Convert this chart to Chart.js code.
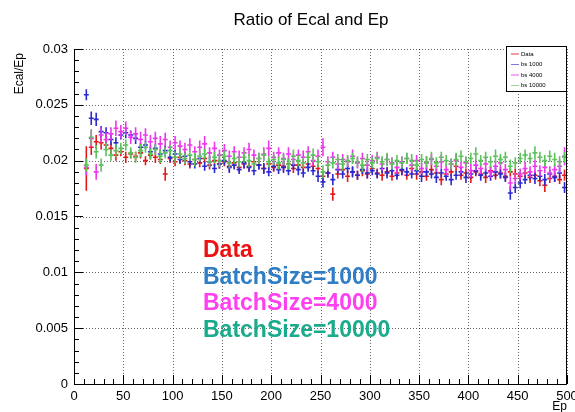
<!DOCTYPE html>
<html lang="en">
<head>
<meta charset="UTF-8">
<title>Ratio of Ecal and Ep</title>
<script src="https://cdn.jsdelivr.net/npm/chart.js"></script>
<style>
  body { margin: 0; padding: 0; background: #fff; }
  #wrap { width: 575px; height: 412px; }
</style>
</head>
<body>
<div id="wrap"><canvas id="ratioChart" width="575" height="412"></canvas></div>
<script>
  // bin centres (bin width 5)
  var binCenters = [
    12.5, 17.5, 22.5, 27.5, 32.5, 37.5, 42.5, 47.5, 52.5, 57.5,
    62.5, 67.5, 72.5, 77.5, 82.5, 87.5, 92.5, 97.5, 102.5, 107.5,
    112.5, 117.5, 122.5, 127.5, 132.5, 137.5, 142.5, 147.5, 152.5, 157.5,
    162.5, 167.5, 172.5, 177.5, 182.5, 187.5, 192.5, 197.5, 202.5, 207.5,
    212.5, 217.5, 222.5, 227.5, 232.5, 237.5, 242.5, 247.5, 252.5, 257.5,
    262.5, 267.5, 272.5, 277.5, 282.5, 287.5, 292.5, 297.5, 302.5, 307.5,
    312.5, 317.5, 322.5, 327.5, 332.5, 337.5, 342.5, 347.5, 352.5, 357.5,
    362.5, 367.5, 372.5, 377.5, 382.5, 387.5, 392.5, 397.5, 402.5, 407.5,
    412.5, 417.5, 422.5, 427.5, 432.5, 437.5, 442.5, 447.5, 452.5, 457.5,
    462.5, 467.5, 472.5, 477.5, 482.5, 487.5, 492.5, 497.5
  ];
  var halfBin = 2.5;

  var seriesNames = ['Data', 'bs 1000', 'bs 4000', 'bs 10000'];

  var ratioData = [
    0.0193, 0.0212, 0.0217, 0.0216, 0.0214, 0.0211, 0.0205, 0.0208, 0.0203, 0.0206,
    0.0204, 0.0207, 0.0200, 0.0205, 0.0203, 0.0201, 0.0188, 0.0202, 0.0199, 0.0203,
    0.0200, 0.0197, 0.0201, 0.0198, 0.0202, 0.0196, 0.0200, 0.0197, 0.0199, 0.0195,
    0.0198, 0.0194, 0.0197, 0.0195, 0.0199, 0.0196, 0.0193, 0.0197, 0.0194, 0.0196,
    0.0195, 0.0197, 0.0193, 0.0196, 0.0194, 0.0197, 0.0195, 0.0193, 0.0186, 0.0189,
    0.0170, 0.0188, 0.0192, 0.0186, 0.0190, 0.0187, 0.0191, 0.0188, 0.0193, 0.0189,
    0.0187, 0.0190, 0.0186, 0.0189, 0.0191, 0.0187, 0.0193, 0.0188, 0.0190, 0.0186,
    0.0192, 0.0189, 0.0183, 0.0188, 0.0190, 0.0195, 0.0187, 0.0189, 0.0185, 0.0190,
    0.0188, 0.0185, 0.0191, 0.0187, 0.0189, 0.0186, 0.0190, 0.0188, 0.0186, 0.0189,
    0.0185, 0.0187, 0.0182, 0.0178, 0.0184, 0.0186, 0.0183, 0.0187
  ];
  var errData = [
    0.0020, 0.0007, 0.0006, 0.0006, 0.0005, 0.0005, 0.0005, 0.0004, 0.0005, 0.0004,
    0.0004, 0.0005, 0.0004, 0.0004, 0.0005, 0.0004, 0.0006, 0.0004, 0.0004, 0.0005,
    0.0004, 0.0004, 0.0005, 0.0004, 0.0004, 0.0004, 0.0005, 0.0004, 0.0004, 0.0004,
    0.0005, 0.0004, 0.0004, 0.0005, 0.0004, 0.0004, 0.0004, 0.0005, 0.0004, 0.0004,
    0.0004, 0.0005, 0.0004, 0.0004, 0.0004, 0.0005, 0.0004, 0.0004, 0.0005, 0.0004,
    0.0006, 0.0004, 0.0004, 0.0005, 0.0004, 0.0004, 0.0005, 0.0004, 0.0004, 0.0004,
    0.0005, 0.0004, 0.0004, 0.0005, 0.0004, 0.0004, 0.0004, 0.0005, 0.0004, 0.0004,
    0.0005, 0.0004, 0.0005, 0.0004, 0.0004, 0.0005, 0.0004, 0.0004, 0.0005, 0.0004,
    0.0004, 0.0005, 0.0004, 0.0004, 0.0005, 0.0004, 0.0004, 0.0005, 0.0004, 0.0004,
    0.0005, 0.0004, 0.0005, 0.0006, 0.0004, 0.0005, 0.0004, 0.0005
  ];

  var ratioBs1000 = [
    0.0259, 0.0238, 0.0237, 0.0226, 0.0225, 0.0219, 0.0216, 0.0223, 0.0225, 0.0223,
    0.0220, 0.0212, 0.0214, 0.0208, 0.0211, 0.0206, 0.0209, 0.0203, 0.0206, 0.0201,
    0.0204, 0.0199, 0.0197, 0.0202, 0.0195, 0.0199, 0.0193, 0.0197, 0.0200, 0.0194,
    0.0196, 0.0192, 0.0198, 0.0194, 0.0191, 0.0196, 0.0193, 0.0190, 0.0195, 0.0192,
    0.0194, 0.0191, 0.0196, 0.0192, 0.0189, 0.0194, 0.0191, 0.0186, 0.0181, 0.0189,
    0.0183, 0.0192, 0.0188, 0.0193, 0.0190, 0.0187, 0.0192, 0.0189, 0.0191, 0.0188,
    0.0193, 0.0189, 0.0191, 0.0187, 0.0192, 0.0190, 0.0188, 0.0191, 0.0186, 0.0190,
    0.0188, 0.0185, 0.0189, 0.0186, 0.0183, 0.0187, 0.0190, 0.0185, 0.0188, 0.0191,
    0.0187, 0.0189, 0.0186, 0.0190, 0.0188, 0.0185, 0.0171, 0.0176, 0.0180, 0.0183,
    0.0187, 0.0184, 0.0186, 0.0183, 0.0188, 0.0185, 0.0189, 0.0176
  ];
  var errBs1000 = [
    0.0005, 0.0006, 0.0006, 0.0005, 0.0005, 0.0005, 0.0005, 0.0004, 0.0005, 0.0004,
    0.0005, 0.0004, 0.0004, 0.0005, 0.0004, 0.0004, 0.0005, 0.0004, 0.0004, 0.0004,
    0.0004, 0.0005, 0.0004, 0.0004, 0.0004, 0.0005, 0.0004, 0.0004, 0.0004, 0.0005,
    0.0004, 0.0004, 0.0005, 0.0004, 0.0004, 0.0004, 0.0005, 0.0004, 0.0004, 0.0004,
    0.0005, 0.0004, 0.0004, 0.0005, 0.0004, 0.0004, 0.0004, 0.0005, 0.0005, 0.0004,
    0.0005, 0.0004, 0.0004, 0.0004, 0.0005, 0.0004, 0.0004, 0.0005, 0.0004, 0.0004,
    0.0004, 0.0005, 0.0004, 0.0004, 0.0005, 0.0004, 0.0004, 0.0004, 0.0005, 0.0004,
    0.0004, 0.0005, 0.0004, 0.0004, 0.0005, 0.0004, 0.0004, 0.0005, 0.0004, 0.0004,
    0.0005, 0.0004, 0.0004, 0.0005, 0.0004, 0.0004, 0.0006, 0.0005, 0.0005, 0.0004,
    0.0004, 0.0005, 0.0004, 0.0005, 0.0004, 0.0004, 0.0005, 0.0005
  ];

  var ratioBs4000 = [
    0.0194, 0.0220, 0.0190, 0.0223, 0.0219, 0.0224, 0.0229, 0.0226, 0.0229, 0.0221,
    0.0224, 0.0219, 0.0223, 0.0217, 0.0220, 0.0215, 0.0219, 0.0212, 0.0216, 0.0213,
    0.0210, 0.0214, 0.0208, 0.0212, 0.0215, 0.0207, 0.0211, 0.0205, 0.0209, 0.0204,
    0.0208, 0.0203, 0.0207, 0.0210, 0.0205, 0.0202, 0.0206, 0.0211, 0.0203, 0.0207,
    0.0202, 0.0206, 0.0201, 0.0205, 0.0203, 0.0208, 0.0200, 0.0204, 0.0212, 0.0199,
    0.0203, 0.0197, 0.0201, 0.0199, 0.0204, 0.0198, 0.0202, 0.0196, 0.0200, 0.0203,
    0.0197, 0.0201, 0.0198, 0.0194, 0.0199, 0.0202, 0.0196, 0.0200, 0.0193, 0.0198,
    0.0201, 0.0195, 0.0199, 0.0192, 0.0197, 0.0200, 0.0194, 0.0198, 0.0191, 0.0196,
    0.0193, 0.0197, 0.0190, 0.0195, 0.0198, 0.0192, 0.0180, 0.0184, 0.0188, 0.0193,
    0.0190, 0.0195, 0.0191, 0.0194, 0.0189, 0.0192, 0.0195, 0.0204
  ];
  var errBs4000 = [
    0.0007, 0.0008, 0.0007, 0.0007, 0.0007, 0.0006, 0.0007, 0.0006, 0.0006, 0.0006,
    0.0006, 0.0007, 0.0006, 0.0006, 0.0006, 0.0007, 0.0006, 0.0006, 0.0006, 0.0005,
    0.0006, 0.0006, 0.0005, 0.0006, 0.0007, 0.0005, 0.0006, 0.0005, 0.0006, 0.0005,
    0.0005, 0.0006, 0.0005, 0.0006, 0.0005, 0.0005, 0.0006, 0.0007, 0.0005, 0.0005,
    0.0005, 0.0006, 0.0005, 0.0005, 0.0006, 0.0005, 0.0005, 0.0006, 0.0008, 0.0005,
    0.0005, 0.0006, 0.0005, 0.0005, 0.0006, 0.0005, 0.0005, 0.0006, 0.0005, 0.0005,
    0.0006, 0.0005, 0.0005, 0.0006, 0.0005, 0.0005, 0.0006, 0.0005, 0.0005, 0.0006,
    0.0005, 0.0005, 0.0006, 0.0005, 0.0005, 0.0006, 0.0005, 0.0005, 0.0006, 0.0005,
    0.0005, 0.0006, 0.0005, 0.0005, 0.0006, 0.0005, 0.0006, 0.0005, 0.0005, 0.0006,
    0.0005, 0.0006, 0.0005, 0.0005, 0.0006, 0.0005, 0.0006, 0.0008
  ];

  var ratioBs10000 = [
    0.0196, 0.0221, 0.0208, 0.0196, 0.0210, 0.0205, 0.0209, 0.0211, 0.0214, 0.0207,
    0.0203, 0.0209, 0.0212, 0.0206, 0.0210, 0.0204, 0.0207, 0.0209, 0.0203, 0.0206,
    0.0202, 0.0205, 0.0201, 0.0204, 0.0206, 0.0199, 0.0203, 0.0200, 0.0204, 0.0198,
    0.0202, 0.0199, 0.0203, 0.0200, 0.0197, 0.0202, 0.0205, 0.0199, 0.0201, 0.0198,
    0.0201, 0.0197, 0.0204, 0.0200, 0.0198, 0.0203, 0.0205, 0.0199, 0.0190, 0.0196,
    0.0198, 0.0201, 0.0197, 0.0200, 0.0202, 0.0199, 0.0196, 0.0201, 0.0198, 0.0202,
    0.0199, 0.0201, 0.0197, 0.0200, 0.0198, 0.0202, 0.0200, 0.0196, 0.0201, 0.0199,
    0.0202, 0.0198, 0.0203, 0.0200, 0.0197, 0.0201, 0.0204, 0.0199, 0.0202, 0.0206,
    0.0200, 0.0203, 0.0199, 0.0204, 0.0201, 0.0203, 0.0195, 0.0198, 0.0202, 0.0205,
    0.0202, 0.0207, 0.0203, 0.0200, 0.0204, 0.0201, 0.0199, 0.0203
  ];
  var errBs10000 = [
    0.0006, 0.0007, 0.0006, 0.0006, 0.0006, 0.0005, 0.0006, 0.0005, 0.0005, 0.0005,
    0.0005, 0.0006, 0.0005, 0.0005, 0.0005, 0.0006, 0.0005, 0.0005, 0.0005, 0.0005,
    0.0005, 0.0005, 0.0006, 0.0005, 0.0005, 0.0005, 0.0005, 0.0006, 0.0005, 0.0005,
    0.0005, 0.0005, 0.0005, 0.0006, 0.0005, 0.0005, 0.0005, 0.0005, 0.0005, 0.0006,
    0.0005, 0.0005, 0.0006, 0.0005, 0.0005, 0.0005, 0.0006, 0.0005, 0.0006, 0.0005,
    0.0005, 0.0005, 0.0006, 0.0005, 0.0005, 0.0005, 0.0006, 0.0005, 0.0005, 0.0005,
    0.0005, 0.0006, 0.0005, 0.0005, 0.0005, 0.0005, 0.0006, 0.0005, 0.0005, 0.0005,
    0.0006, 0.0005, 0.0005, 0.0005, 0.0005, 0.0006, 0.0005, 0.0005, 0.0005, 0.0006,
    0.0005, 0.0005, 0.0005, 0.0006, 0.0005, 0.0005, 0.0006, 0.0005, 0.0005, 0.0005,
    0.0005, 0.0006, 0.0005, 0.0005, 0.0005, 0.0006, 0.0005, 0.0005
  ];

  var overlayLabels = ['Data', 'BatchSize=1000', 'BatchSize=4000', 'BatchSize=10000'];

  var seriesColors = ['#e41a1a', '#2a2ad0', '#ee36ee', '#5cc25c'];
  var legendColors = ['#e43a3a', '#7a7ade', '#ee55ee', '#9ad89a'];
  var overlayColors = ['#ee1111', '#2f7dc4', '#ff40f0', '#1aaa8c'];

  function makePoints(vals, errs) {
    return binCenters.map(function (x, i) {
      return { x: x, y: vals[i], err: errs[i] };
    });
  }

  var fontFamily = '"Liberation Sans", Arial, Helvetica, sans-serif';

  // dotted grid, frame, inward ticks, ROOT style error crosses, legend and labels
  var rootStyle = {
    id: 'rootStyle',
    beforeDatasetsDraw: function (chart) {
      var ctx = chart.ctx, a = chart.chartArea;
      var xs = chart.scales.x, ys = chart.scales.y;
      ctx.save();
      ctx.strokeStyle = 'rgba(0,0,0,0.6)';
      ctx.lineWidth = 1;
      ctx.setLineDash([1, 2]);
      xs.ticks.forEach(function (t) {
        var px = Math.round(xs.getPixelForValue(t.value)) + 0.5;
        ctx.beginPath(); ctx.moveTo(px, a.top); ctx.lineTo(px, a.bottom); ctx.stroke();
      });
      ys.ticks.forEach(function (t) {
        var py = Math.round(ys.getPixelForValue(t.value)) + 0.5;
        ctx.beginPath(); ctx.moveTo(a.left, py); ctx.lineTo(a.right, py); ctx.stroke();
      });
      ctx.restore();
    },
    afterDatasetsDraw: function (chart) {
      var ctx = chart.ctx, a = chart.chartArea;
      var xs = chart.scales.x, ys = chart.scales.y;
      ctx.save();

      // error crosses
      ctx.lineWidth = 1.6;
      chart.data.datasets.forEach(function (ds) {
        ctx.strokeStyle = ds.borderColor;
        ds.data.forEach(function (p) {
          var px = xs.getPixelForValue(p.x), py = ys.getPixelForValue(p.y);
          ctx.beginPath();
          ctx.moveTo(xs.getPixelForValue(p.x - halfBin), py);
          ctx.lineTo(xs.getPixelForValue(p.x + halfBin), py);
          ctx.moveTo(px, ys.getPixelForValue(p.y + p.err));
          ctx.lineTo(px, ys.getPixelForValue(p.y - p.err));
          ctx.stroke();
        });
      });

      // frame
      ctx.strokeStyle = '#000';
      ctx.lineWidth = 1;
      ctx.beginPath();
      ctx.moveTo(a.left + 0.5, a.top); ctx.lineTo(a.left + 0.5, a.bottom + 0.5);
      ctx.lineTo(a.right - 0.5, a.bottom + 0.5); ctx.lineTo(a.right - 0.5, a.top);
      ctx.stroke();

      // inward ticks
      ctx.beginPath();
      var v, py, px;
      for (v = 0; v <= 0.03 + 1e-9; v += 0.001) {
        py = Math.round(ys.getPixelForValue(v)) + 0.5;
        var major = Math.abs(v / 0.005 - Math.round(v / 0.005)) < 1e-6;
        ctx.moveTo(a.left, py); ctx.lineTo(a.left + (major ? 9 : 5), py);
      }
      for (v = 0; v <= 500; v += 10) {
        px = Math.round(xs.getPixelForValue(v)) + 0.5;
        ctx.moveTo(px, a.bottom); ctx.lineTo(px, a.bottom - (v % 50 === 0 ? 9 : 5));
      }
      ctx.stroke();

      // title and axis titles
      ctx.fillStyle = '#000';
      ctx.font = '17px ' + fontFamily;
      ctx.textAlign = 'center';
      ctx.textBaseline = 'middle';
      ctx.fillText('Ratio of Ecal and Ep', 311, 20);

      ctx.font = '12px ' + fontFamily;
      ctx.textAlign = 'right';
      ctx.fillText('Ep', a.right, 407);
      ctx.save();
      ctx.translate(20, 53);
      ctx.rotate(-Math.PI / 2);
      ctx.fillText('Ecal/Ep', 0, 0);
      ctx.restore();

      // legend box
      var lx = 506, ly = 46, lw = 61, lh = 46;
      ctx.fillStyle = '#fff';
      ctx.fillRect(lx, ly, lw, lh);
      ctx.strokeStyle = '#000';
      ctx.strokeRect(lx + 0.5, ly + 0.5, lw - 1, lh - 1);
      ctx.font = '6px ' + fontFamily;
      ctx.textAlign = 'left';
      seriesNames.forEach(function (name, i) {
        var ry = ly + 8 + i * 10.5;
        ctx.strokeStyle = legendColors[i];
        ctx.lineWidth = 1;
        ctx.beginPath(); ctx.moveTo(lx + 5, ry); ctx.lineTo(lx + 13, ry); ctx.stroke();
        ctx.fillStyle = '#000';
        ctx.fillText(name, lx + 15, ry);
      });

      // large overlay labels
      ctx.font = 'bold 23px ' + fontFamily;
      ctx.textAlign = 'left';
      overlayLabels.forEach(function (txt, i) {
        ctx.fillStyle = overlayColors[i];
        ctx.fillText(txt, 203, 251 + i * 26.5);
      });

      ctx.restore();
    }
  };

  var datasets = [
    makePoints(ratioData, errData),
    makePoints(ratioBs1000, errBs1000),
    makePoints(ratioBs4000, errBs4000),
    makePoints(ratioBs10000, errBs10000)
  ].map(function (pts, i) {
    return {
      label: seriesNames[i],
      data: pts,
      borderColor: seriesColors[i],
      backgroundColor: seriesColors[i],
      pointRadius: 0,
      pointHoverRadius: 0,
      showLine: false
    };
  });

  var ctx = document.getElementById('ratioChart').getContext('2d');
  var ratioChart = new Chart(ctx, {
    type: 'scatter',
    data: { datasets: datasets },
    options: {
      responsive: false,
      animation: false,
      devicePixelRatio: 1,
      layout: { padding: { top: 49, right: 8, left: 0, bottom: 0 } },
      plugins: {
        legend: { display: false },
        title: { display: false },
        tooltip: { enabled: false }
      },
      scales: {
        x: {
          type: 'linear',
          min: 0,
          max: 500,
          grid: { display: false, drawTicks: false, tickLength: 0 },
          border: { display: false },
          ticks: {
            stepSize: 50,
            padding: 5,
            color: '#000',
            maxRotation: 0,
            font: { size: 13, family: fontFamily }
          },
          afterFit: function (scale) {
            scale.height = 28;
            scale.paddingLeft = 0;
            scale.paddingRight = 0;
          }
        },
        y: {
          type: 'linear',
          min: 0,
          max: 0.03,
          grid: { display: false, drawTicks: false, tickLength: 0 },
          border: { display: false },
          ticks: {
            stepSize: 0.005,
            padding: 6,
            color: '#000',
            font: { size: 13, family: fontFamily },
            callback: function (v) { return String(+v.toFixed(3)); }
          },
          afterFit: function (scale) {
            scale.width = 74;
            scale.paddingTop = 0;
            scale.paddingBottom = 0;
          }
        }
      }
    },
    plugins: [rootStyle]
  });
</script>
</body>
</html>
